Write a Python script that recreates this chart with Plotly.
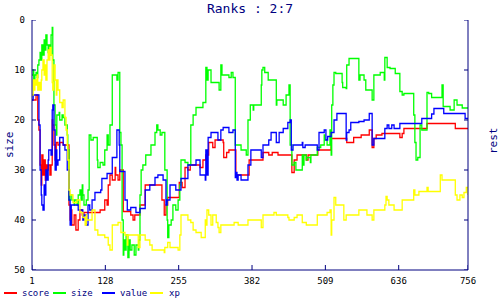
import plotly.graph_objects as go

# ---------------- data (step breakpoints) ----------------
score_x = [1,8,11,13,15,17,18,20,22,24,25,27,29,32,34,36,37,39,41,43,46,49,55,63,65,67,69,70,74,77,
           81,84,88,91,110,119,127,131,133,136,140,145,146,150,153,159,172,176,179,188,197,224,226,230,233,236,254,256,261,266,
           271,275,292,297,302,307,314,318,332,333,338,342,354,377,401,411,417,427,451,455,460,476,479,496,519,546,558,571,585,590,
           593,597,607,638,642,645,685,734,756]
score_y = [16,15,20,22,29,33,27,31,28,32,29,30,29,31,29,20,21,25,28,24.5,25,24.5,25,25,37,40,38,41,39,42,
           40,38,39,38.5,38.5,38,36,37,33,31,32,29.5,31,32,30,38.3,39,40,39,37,33,33,36,39,37,35.5,35.5,32.5,33.5,29.5,
           30,29,29.5,28,27,24.5,25.5,24,24.5,27.5,26.5,26,31,28,26.5,27,26.5,27,30.5,28,27,28,27,26,23.7,24.5,23.5,23,22,25.5,
           23.7,23,22.7,23.5,22.7,21.7,20.7,21.7,21.7]

size_x = [1,3,4,6,8,10,11,13,15,17,18,20,22,24,25,27,29,30,32,34,36,37,39,41,43,44,48,49,53,55,
          58,62,63,65,67,70,74,75,79,81,84,86,88,89,91,95,98,100,103,107,114,115,119,124,127,131,133,136,140,148,
          150,153,155,157,159,160,162,164,167,169,171,174,178,181,185,186,188,190,193,198,207,214,217,219,223,226,231,235,236,238,
          242,245,250,254,257,259,266,271,276,280,285,297,302,304,306,311,325,328,330,342,346,349,353,363,372,375,379,384,385,398,
          399,401,404,410,424,425,436,441,446,448,451,455,458,469,470,472,476,477,483,484,495,501,507,508,512,517,519,520,522,524,
          527,538,539,545,546,550,567,569,576,579,590,593,604,611,612,616,621,630,638,642,645,662,664,666,669,673,676,685,688,693,
          711,713,725,732,737,746,756]
size_y = [11,10,12,11,10.5,11.5,9,8,6.5,8,5,7,4,6,3,5,6.5,5,7,3,1.5,8,17,21,23,19,18.5,20,19,19.5,
          21,23,26,36,35,36,37,36,37,35,34,36,33,35,37,36,34,23,24,23.5,28,29.5,28.5,29,26,23,25,21,11,12,
          10.5,22.5,25,40,47,44,46,43,47.5,44,46,45,47,45,46,44,35,30,29,27,25,22.5,21,22,23,22.5,30,40,43.5,41,
          40,37,38,36,33,28,28.5,29,21,19,17.5,16.5,9.5,12,10,12.5,14,9,11,11.5,10.5,11.5,25,26,27,20,17,18,17,13,
          10,9.5,10.5,12,17,16,17,15,13,25,29,28.5,30,27,29,27,28,27.5,28.5,27,25.5,25,23,24,25,22,27,17,13,10.5,
          10.7,12.5,13.5,13.7,9,7.7,12,11,12,14,16,11,10.5,12,7.5,9.5,9.7,10.7,14.3,15,14.7,19,24.5,28,27.5,21,22,14.5,14.7,15.5,
          13,17.3,18,16,17,17.6,17.6]

value_x = [1,3,11,13,15,17,18,20,22,24,25,27,29,30,34,36,37,39,41,43,44,46,49,55,58,62,65,67,69,75,
           81,89,91,95,98,101,105,110,120,122,131,140,148,152,153,162,166,172,181,188,197,205,214,219,228,233,235,240,250,259,
           271,285,292,301,302,304,306,311,323,328,332,342,349,353,354,356,358,363,375,380,398,401,411,415,424,429,436,444,448,450,
           453,469,470,474,495,498,507,510,513,519,524,529,545,546,550,553,567,576,585,590,593,612,616,619,624,628,638,676,693,697,
           714,751,756]
value_y = [16,15,15,21,30,35,37,38,33,35,30,32,28,26,27,18,17,22,30,26,29,28,23.5,25,26,30,36,41,37,37,
           38,40,39,41,37,38,36,34.5,34,31.7,30.7,27.5,22,25,30.3,36,38,37.5,38.5,37.7,34,33,31.5,31,32,37,36,33,34,31.7,
           29,28,31,32,26,31,23.5,22.5,24,22,21.5,22.5,22,31.5,30.5,32,31,32,29,26,27.5,25,24,22.5,24.5,22.5,21.7,20.5,20,26,
           25,24.5,25.5,25,26,22.5,22,24,23.3,22.5,20,18.7,24,22.5,22,20.5,20.3,20,18.7,25,23.7,21.7,21,21.7,21,21.7,20.7,19.7,18.8,17.7,
           18.7,19.7,19.7]

xp_x = [1,3,4,6,8,10,11,13,15,17,18,20,22,24,25,27,29,30,32,34,36,37,39,41,43,44,46,49,53,55,
        58,60,62,63,65,67,72,79,84,89,93,95,96,105,110,115,127,133,136,140,150,155,162,166,167,185,188,197,205,209,
        230,231,236,240,254,257,259,271,276,280,285,294,301,302,304,307,311,314,320,323,325,328,351,358,375,398,401,420,424,444,
        446,455,460,469,476,495,512,517,519,520,524,527,541,545,567,581,590,593,612,614,616,619,628,642,662,664,671,685,687,708,
        711,734,737,742,746,749,753,756]
xp_y = [15,12,14,12,13,11,14,12.5,14,12,10,8,11,9,12,8,6,8,5.5,7,12.5,14,9,12,15,12,14,16.5,17.5,16,
        19.5,22,25,28,34,35,36.5,36,38.5,39.5,41,39,40,38,42,43,43.5,45,46,41,40.5,42.5,43,45,43,45.5,43,44,45,46,
        46.5,45.5,44.5,45.5,46,43,39,40,40.5,42,42.5,43.5,40,41,38,39,41,39,40.5,41.5,42.5,41,40.5,41,40,41.5,39,38.5,39,39.5,
        40,39.5,39,40.5,41,39,38.5,38,43,40,35.5,37,40,39,38,39,40,38,37,35.3,36,37,38,36,34,35,34.3,33.5,34.3,31,
        32,35,36,35,35.5,34.5,33.5,35]

x_ticks = [1, 128, 255, 382, 509, 636, 756]
y_ticks = [0, 10, 20, 30, 40, 50]

series = [
    ("score", score_x, score_y, "#ff0000"),
    ("size", size_x, size_y, "#00ff00"),
    ("value", value_x, value_y, "#0000ff"),
    ("xp", xp_x, xp_y, "#ffff00"),
]

NAVY = "#000080"
MONO = "DejaVu Sans Mono"

fig = go.Figure()
for name, xs, ys, col in series:
    fig.add_trace(go.Scatter(x=xs, y=ys, mode="lines", name=name,
                             line=dict(color=col, width=1.3, shape="hv"),
                             showlegend=False, hoverinfo="skip"))

# plot area geometry (pixels)
L, R, T, B = 32, 32, 20, 30
W, H = 500, 300
PW, PH = W - L - R, H - T - B

def px2x(px):
    return (px - L) / PW

def py2y(py):
    return (H - B - py) / PH

axis_common = dict(showline=False, ticks="", showgrid=False, zeroline=False,
                   tickfont=dict(family=MONO, size=9, color="black"))

fig.update_layout(
    width=W, height=H, autosize=False,
    margin=dict(l=L, r=R, t=T, b=B, pad=0),
    plot_bgcolor="white", paper_bgcolor="white",
    title=dict(text="Ranks : 2:7", x=0.5, xanchor="center", y=1 - 8.5 / H, yanchor="middle",
               font=dict(family=MONO, size=13, color=NAVY)),
    xaxis=dict(range=[1, 756], tickvals=x_ticks, ticktext=[str(v) for v in x_ticks],
               ticklabelstandoff=4, **axis_common),
    yaxis=dict(range=[50, 0], tickvals=y_ticks, side="left", ticklabelstandoff=6, **axis_common),
    yaxis2=dict(range=[50, 0], tickvals=y_ticks, side="right", overlaying="y",
                ticklabelstandoff=6, **axis_common),
)

# axis frame (left, right, bottom) and inside ticks
line_style = dict(color=NAVY, width=1)
fig.add_shape(type="line", xref="paper", yref="paper", x0=0, x1=0, y0=0, y1=1, line=line_style)
fig.add_shape(type="line", xref="paper", yref="paper", x0=1, x1=1, y0=0, y1=1, line=line_style)
fig.add_shape(type="line", xref="paper", yref="paper", x0=0, x1=1, y0=0, y1=0, line=line_style)
for v in y_ticks:
    fig.add_shape(type="line", xref="paper", yref="y", x0=0, x1=4 / PW, y0=v, y1=v, line=line_style)
    fig.add_shape(type="line", xref="paper", yref="y", x0=1 - 4 / PW, x1=1, y0=v, y1=v, line=line_style)
for v in x_ticks:
    fig.add_shape(type="line", xref="x", yref="paper", x0=v, x1=v, y0=0, y1=5 / PH, line=line_style)

# axis titles
fig.add_annotation(text="size", x=px2x(9), y=py2y(145), xref="paper", yref="paper",
                   showarrow=False, textangle=-90, xanchor="center", yanchor="middle",
                   font=dict(family=MONO, size=11, color=NAVY))
fig.add_annotation(text="rest", x=px2x(493), y=py2y(141), xref="paper", yref="paper",
                   showarrow=False, textangle=-90, xanchor="center", yanchor="middle",
                   font=dict(family=MONO, size=11, color=NAVY))

# legend row
leg_pos = [(4, 20), (53, 69), (102, 118), (150, 167)]
for (name, _, _, col), (lx, tx) in zip(series, leg_pos):
    fig.add_shape(type="line", xref="paper", yref="paper",
                  x0=px2x(lx), x1=px2x(lx + 13), y0=py2y(293), y1=py2y(293),
                  line=dict(color=col, width=2))
    fig.add_annotation(text=name, x=px2x(tx), y=py2y(293), xref="paper", yref="paper",
                       showarrow=False, xanchor="left", yanchor="middle",
                       font=dict(family=MONO, size=9, color=NAVY))

fig.write_html("out.html")
